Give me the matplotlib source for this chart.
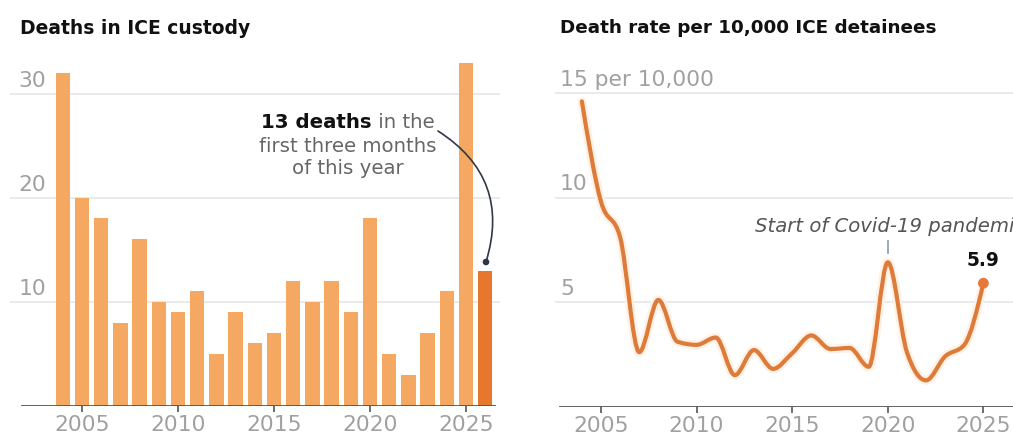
import matplotlib
matplotlib.use("Agg")
import matplotlib.pyplot as plt
import numpy as np
from matplotlib.path import Path
from matplotlib.patches import PathPatch
import matplotlib.patheffects as pe

# ---------------- data ----------------
death_years = list(range(2004, 2027))
deaths = [32, 20, 18, 8, 16, 10, 9, 11, 5, 9, 6, 7, 12, 10, 12, 9, 18, 5, 3, 7, 11, 33, 13]

rate_years = list(range(2004, 2026))
rate = [14.6, 9.8, 8.1, 2.6, 5.1, 3.1, 2.95, 3.3, 1.5, 2.7, 1.8, 2.55, 3.4, 2.75,
        2.8, 1.9, 6.9, 2.6, 1.25, 2.4, 2.95, 5.9]

xtick_years = [2005, 2010, 2015, 2020, 2025]
left_yticks = [10, 20, 30]
left_ylabels = ["10", "20", "30"]
right_yticks = [5, 10, 15]
right_ylabels = ["5", "10", "15 per 10,000"]

left_title = "Deaths in ICE custody"
right_title = "Death rate per 10,000 ICE detainees"
note_bold = "13 deaths"
note_rest = " in the"
note_lines = ["first three months", "of this year"]
covid_note = "Start of Covid-19 pandemic"
covid_year = 2020
last_label = "5.9"

BAR = "#F5A862"
BAR_DARK = "#E8772E"
LINE = "#DD7B3A"
GRID = "#E6E6E6"
AXIS = "#555555"
TICKTXT = "#a0a0a0"

W, H = 1013, 441
fig = plt.figure(figsize=(W / 100, H / 100), dpi=100)
fig.patch.set_facecolor("white")
r = fig.canvas.get_renderer()


def fx(px):
    return px / W


def fy(py):
    return (H - py) / H


def size_for(text, target, **kw):
    t = fig.text(0, 0, text, fontsize=10, **kw)
    w = t.get_window_extent(renderer=r).width
    t.remove()
    return 10 * target / w


fs_num = size_for("2005", 55)

# ---------------- left: bars ----------------
L0, L1, LB, LT = 10, 500, 405.7, 60
axL = fig.add_axes([fx(L0), fy(LB), fx(L1 - L0), (LB - LT) / H])
ppy = 19.2
axL.set_xlim(2005 + (L0 - 82) / ppy, 2005 + (L1 - 82) / ppy)
axL.set_ylim(0, (LB - LT) / 10.4)
colors = [BAR] * (len(deaths) - 1) + [BAR_DARK]
for v in left_yticks:
    axL.axhline(v, color=GRID, lw=1.2, zorder=0)
axL.bar(death_years, deaths, width=0.74, color=colors, zorder=2)
axL.axhline(0, xmin=(21.7 - L0) / (L1 - L0), xmax=(495 - L0) / (L1 - L0), color=AXIS, lw=1.3, zorder=3)

# ---------------- right: line ----------------
R0, R1, RB, RT = 555, 1013, 406.5, 60
axR = fig.add_axes([fx(R0), fy(RB), fx(R1 - R0), (RB - RT) / H])
ppy2 = 19.12
axR.set_xlim(2005 + (R0 - 601) / ppy2, 2005 + (R1 - 601) / ppy2)
axR.set_ylim(0, (RB - RT) / 20.9)
for v in right_yticks:
    axR.axhline(v, color=GRID, lw=1.2, zorder=0)
axR.axhline(0, xmin=(560 - R0) / (R1 - R0), xmax=1, color=AXIS, lw=1.3, zorder=3)


def monotone_path(x, y):
    x = np.asarray(x, float)
    y = np.asarray(y, float)
    n = len(x)
    h = np.diff(x)
    s = np.diff(y) / h
    t = np.zeros(n)
    for i in range(1, n - 1):
        h0, h1 = h[i - 1], h[i]
        s0, s1 = s[i - 1], s[i]
        p = (s0 * h1 + s1 * h0) / (h0 + h1)
        t[i] = (np.sign(s0) + np.sign(s1)) * min(abs(s0), abs(s1), 0.5 * abs(p))
    t[0] = (3 * s[0] - t[1]) / 2
    t[-1] = (3 * s[-1] - t[-2]) / 2
    verts = [(x[0], y[0])]
    codes = [Path.MOVETO]
    for i in range(n - 1):
        d = (x[i + 1] - x[i]) / 3
        verts += [(x[i] + d, y[i] + d * t[i]), (x[i + 1] - d, y[i + 1] - d * t[i + 1]), (x[i + 1], y[i + 1])]
        codes += [Path.CURVE4] * 3
    return Path(verts, codes)


patch = PathPatch(monotone_path(rate_years, rate), fill=False, edgecolor=LINE, lw=3.0,
                  capstyle="round", joinstyle="round", zorder=4,
                  path_effects=[pe.Stroke(linewidth=6.5, foreground="#fff1e4"), pe.Normal()])
axR.add_patch(patch)
axR.scatter([rate_years[-1]], [rate[-1]], s=60, color="#E8773A", zorder=5, edgecolors="none")

# ---------------- axes styling ----------------
for ax in (axL, axR):
    for sp in ax.spines.values():
        sp.set_visible(False)
    ax.set_facecolor("none")
    ax.set_yticks([])
    ax.set_xticks(xtick_years)
    ax.set_xticklabels([str(y) for y in xtick_years])
    ax.tick_params(axis="x", length=4.5, width=1.2, color=AXIS, labelcolor=TICKTXT,
                   labelsize=fs_num, pad=2.5)

# y labels
for v, lab in zip(left_yticks, left_ylabels):
    axL.annotate(lab, xy=(fx(46), v), xycoords=(fig.transFigure, axL.transData),
                 xytext=(0, 9.5), textcoords="offset points", ha="right", va="center",
                 fontsize=fs_num, color=TICKTXT)
for v, lab in zip(right_yticks, right_ylabels):
    axR.annotate(lab, xy=(fx(560), v), xycoords=(fig.transFigure, axR.transData),
                 xytext=(0, 9.5), textcoords="offset points", ha="left", va="center",
                 fontsize=fs_num, color=TICKTXT)

# ---------------- titles ----------------
fs_t1 = size_for(left_title, 230, fontweight="bold")
fs_t2 = size_for(right_title, 378, fontweight="bold")
fig.text(fx(20), fy(28), left_title, fontsize=fs_t1, fontweight="bold", color="#111111",
         ha="left", va="center")
fig.text(fx(560), fy(28), right_title, fontsize=fs_t2, fontweight="bold", color="#111111",
         ha="left", va="center")

# ---------------- left annotation ----------------
fs_n = size_for(note_lines[0], 178)
tb = fig.text(0, 0, note_bold, fontsize=fs_n, fontweight="bold")
wb = tb.get_window_extent(renderer=r).width
tb.remove()
tr = fig.text(0, 0, note_rest, fontsize=fs_n)
wr = tr.get_window_extent(renderer=r).width
tr.remove()
cx = 348
x0 = cx - (wb + wr) / 2
fig.text(fx(x0), fy(122), note_bold, fontsize=fs_n, fontweight="bold", color="#111111",
         ha="left", va="center")
fig.text(fx(x0 + wb), fy(122), note_rest, fontsize=fs_n, color="#666666", ha="left", va="center")
fig.text(fx(cx), fy(146), note_lines[0], fontsize=fs_n, color="#666666", ha="center", va="center")
fig.text(fx(cx), fy(169), note_lines[1], fontsize=fs_n, color="#666666", ha="center", va="center")

fig.add_artist(matplotlib.patches.FancyArrowPatch(
    (438, H - 131), (486, H - 262), transform=None,
    arrowstyle="-", connectionstyle="arc3,rad=-0.38", color="#2f3647", lw=1.2,
    shrinkA=0, shrinkB=0))
fig.add_artist(matplotlib.patches.Circle((486, H - 262), 2.6, transform=None, color="#2f3647"))

# ---------------- right annotations ----------------
fs_c = size_for("Start of Covid-19 pandemi", 258, fontstyle="italic")
fig.text(fx(755), fy(227), covid_note, fontsize=fs_c, fontstyle="italic", color="#555555",
         ha="left", va="center")
xc = axR.transData.transform((covid_year, 0))[0]
fig.add_artist(matplotlib.lines.Line2D([xc, xc], [H - 241, H - 253], transform=None,
                                       color="#8fa6bb", lw=1.3))
fs_l = size_for(last_label, 33, fontweight="bold")
xl = axR.transData.transform((rate_years[-1], 0))[0]
fig.text(xl / W, fy(261), last_label, fontsize=fs_l, fontweight="bold", color="#111111",
         ha="center", va="center")

fig.savefig("out.png", dpi=100, facecolor="white")
